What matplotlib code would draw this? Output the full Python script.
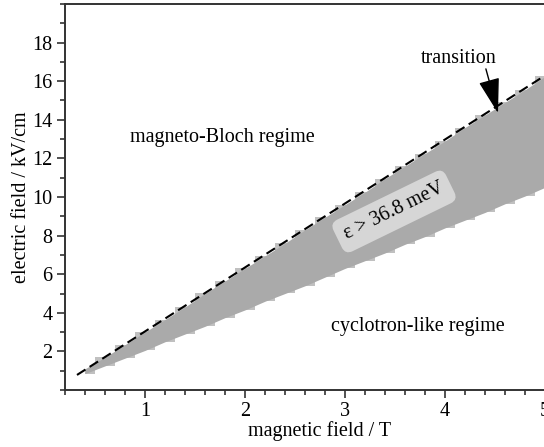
import matplotlib.pyplot as plt
from matplotlib.ticker import MultipleLocator

plt.rcParams['font.family'] = ['Liberation Serif', 'DejaVu Serif']
plt.rcParams['font.size'] = 14.5

# region where the electron energy exceeds 36.8 meV
B = [0.4, 0.6, 0.8, 1.0, 1.2, 1.4, 1.6, 1.8, 2.0, 2.2, 2.4, 2.6, 2.8,
     3.0, 3.2, 3.4, 3.6, 3.8, 4.0, 4.2, 4.4, 4.6, 4.8, 5.0, 5.2, 5.4]
E_upper = [1.1, 1.7, 2.35, 3.0, 3.65, 4.3, 5.0, 5.65, 6.3, 6.95, 7.6, 8.3,
           8.95, 9.6, 10.25, 10.95, 11.6, 12.25, 12.9, 13.6, 14.25, 14.9,
           15.55, 16.25, 16.9, 17.55]
E_lower = [0.85, 1.25, 1.65, 2.05, 2.5, 2.9, 3.3, 3.75, 4.15, 4.6, 5.0, 5.4,
           5.85, 6.3, 6.7, 7.1, 7.55, 7.95, 8.4, 8.8, 9.2, 9.65, 10.05, 10.5,
           10.9, 11.3]

# transition line
B_line = [0.32, 5.4]
E_line = [0.78, 17.62]

fig = plt.figure(figsize=(5.44, 4.47), dpi=100)
ax = fig.add_axes([65 / 544, 57 / 447, 510 / 544, 386 / 447])

ax.fill_between(B, E_lower, E_upper, step='mid', color='#c0c0c0', lw=0)
ax.fill_between(B, E_lower, E_upper, color='#aaaaaa', lw=0)
ax.plot(B_line, E_line, color='black', lw=1.5, dashes=(4.8, 2.4))

ax.text(3.49, 9.25, r'ε > 36.8 meV', rotation=26, ha='center', va='center',
        fontsize=14.5, rotation_mode='anchor',
        bbox=dict(boxstyle='round,pad=0.4', fc='#d6d6d6', ec='none'))
ax.text(1.775, 13.07, 'magneto-Bloch regime', ha='center', va='center')
ax.text(3.725, 3.28, 'cyclotron-like regime', ha='center', va='center')
ax.annotate('transition', xy=(4.53, 14.35), xytext=(4.14, 17.2),
            ha='center', va='center',
            arrowprops=dict(arrowstyle='-|>,head_length=1.1,head_width=0.33',
                            mutation_scale=20, color='black', lw=1,
                            shrinkA=1, shrinkB=0,
                            patchA=None, relpos=(0.85, 0.0)))

ax.set_xlim(0.2, 5.3)
ax.set_ylim(0, 20)
ax.xaxis.set_major_locator(MultipleLocator(1))
ax.xaxis.set_minor_locator(MultipleLocator(0.2))
ax.yaxis.set_minor_locator(MultipleLocator(1))
ax.set_yticks(range(2, 20, 2))
ax.tick_params(which='major', direction='out', length=6, width=1.2,
               color='#333333', pad=3)
ax.tick_params(which='minor', direction='out', length=3.5, width=1.2,
               color='#333333')
for s in ['left', 'bottom', 'top']:
    ax.spines[s].set_linewidth(1.4)
    ax.spines[s].set_color('#333333')
ax.spines['right'].set_visible(False)

ax.set_xlabel('magnetic field / T', labelpad=0)
ax.set_ylabel('electric field / kV/cm', labelpad=1)

fig.savefig('out.png', dpi=100)
